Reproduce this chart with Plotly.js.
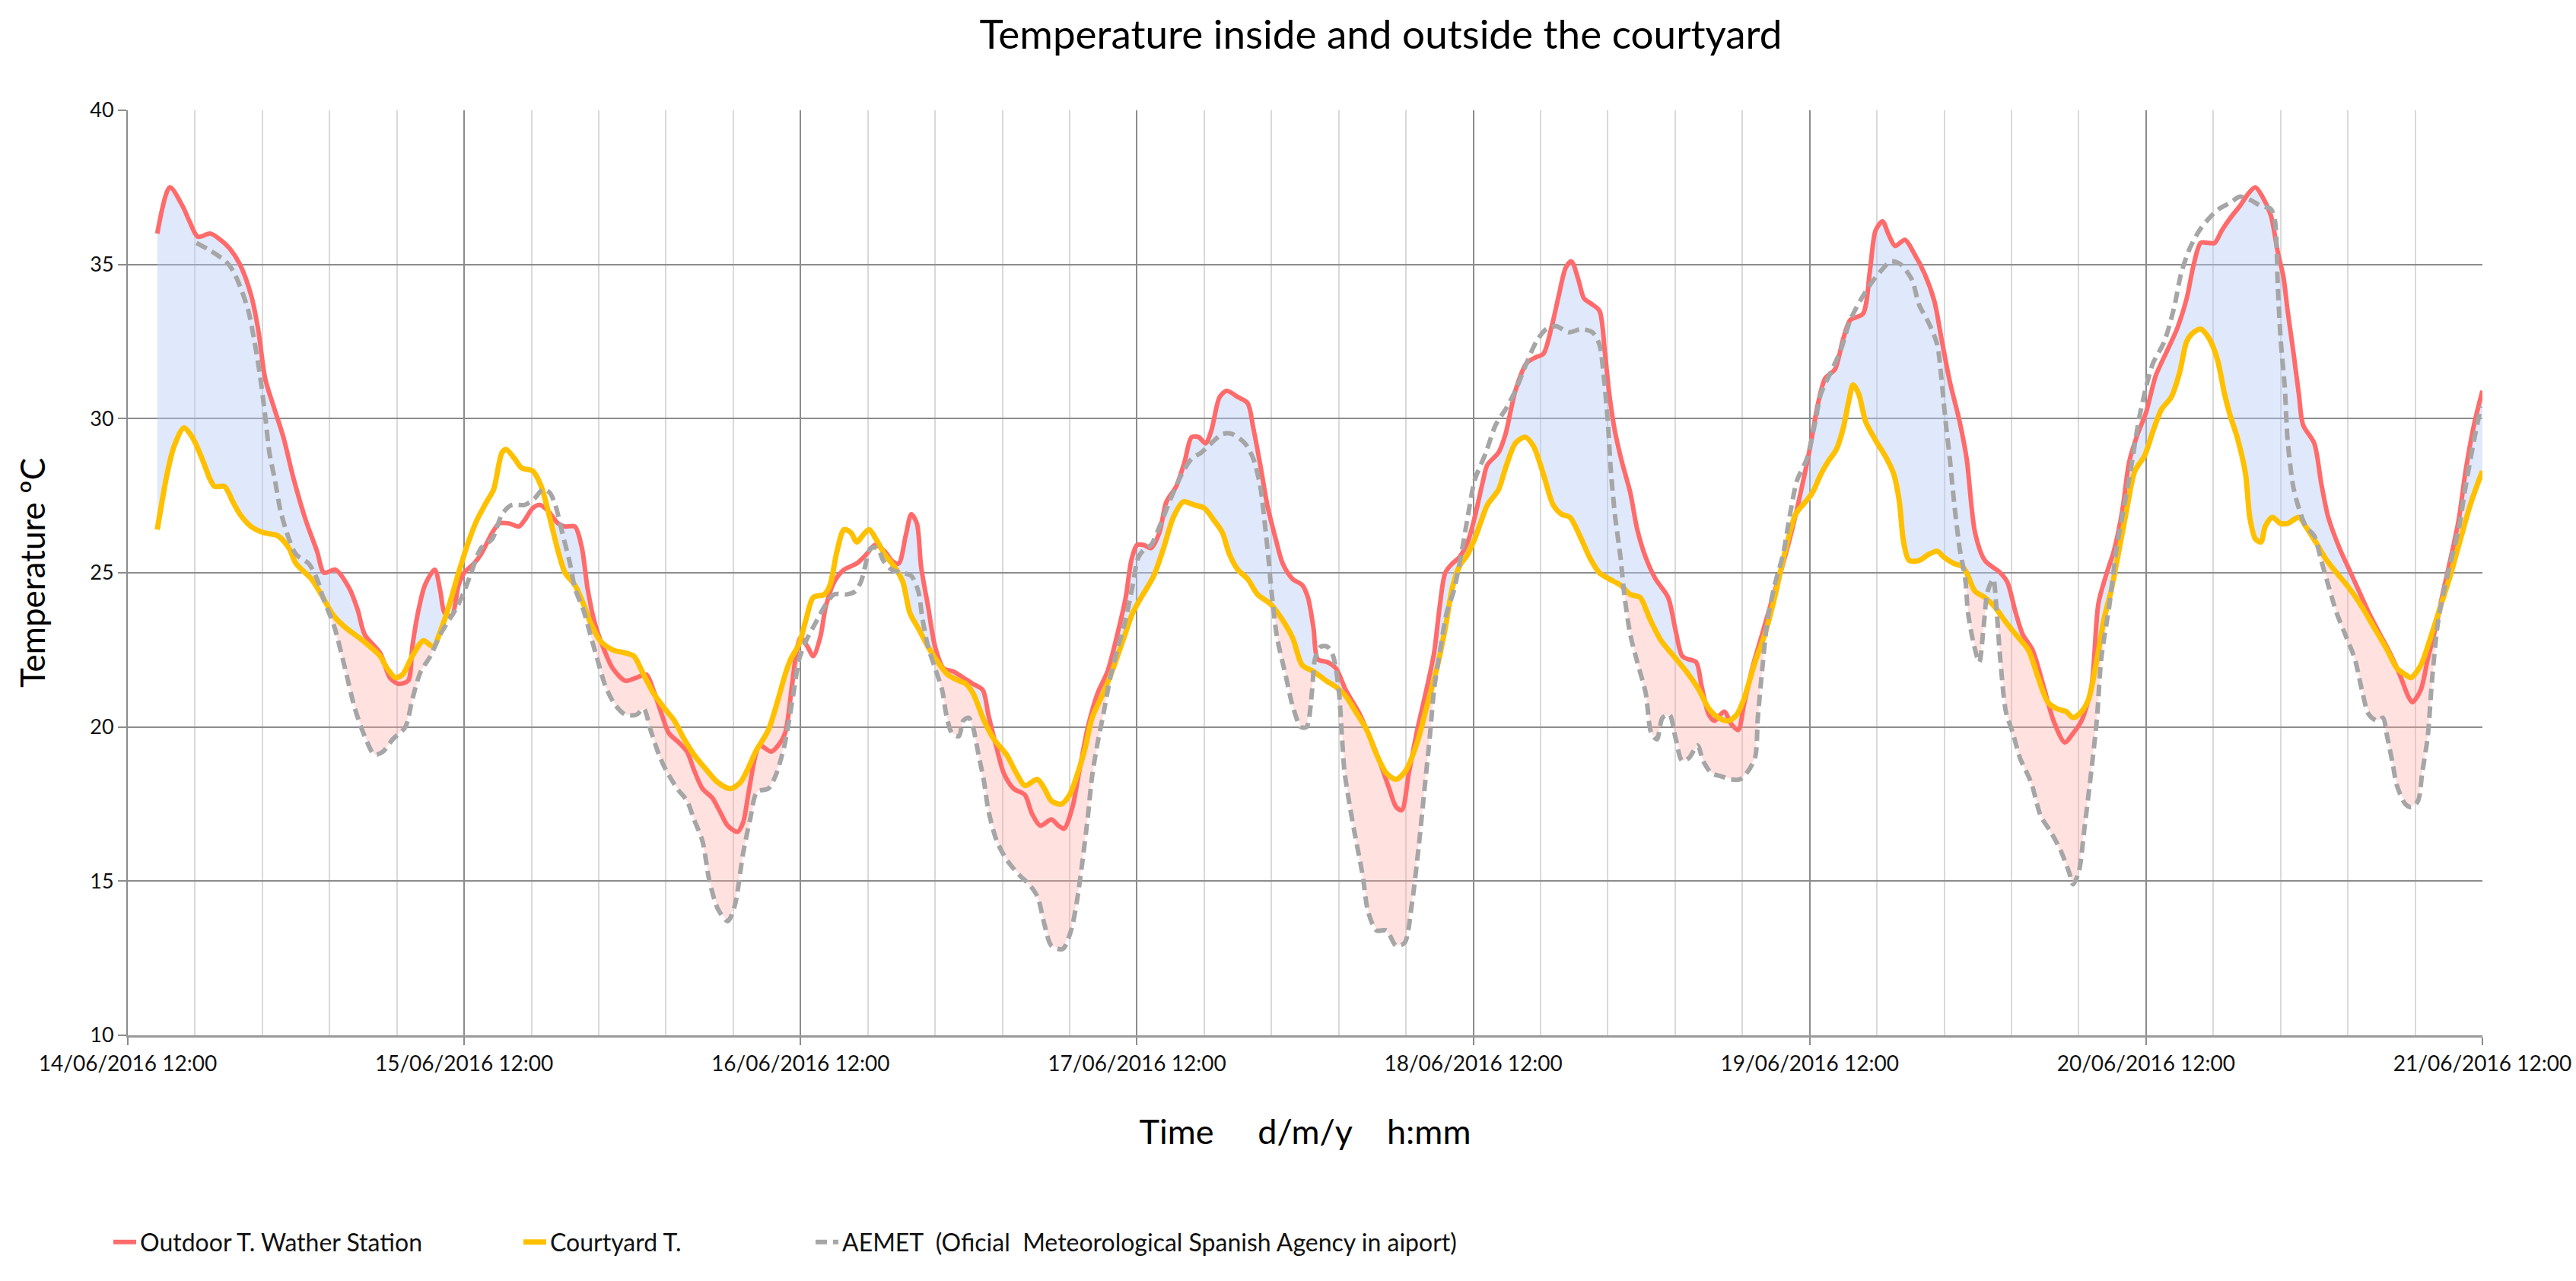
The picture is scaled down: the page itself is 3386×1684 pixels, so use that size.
<!DOCTYPE html>
<html>
<head>
<meta charset="utf-8">
<script src="https://cdn.plot.ly/plotly-3.0.1.min.js"></script>
<style>
  html, body { margin: 0; padding: 0; background: #ffffff; }
  #chart { width: 3386px; height: 1684px; }
</style>
</head>
<body>
<div id="chart"></div>
<script>
// ---------------- DATA ----------------
// Time origin of the x axis and tick labels
const startTime = '2016-06-14T12:00:00Z';
const tickLabels = ['14/06/2016 12:00', '15/06/2016 12:00', '16/06/2016 12:00', '17/06/2016 12:00',
                    '18/06/2016 12:00', '19/06/2016 12:00', '20/06/2016 12:00', '21/06/2016 12:00'];
const seriesNames = ['Outdoor T. Wather Station', 'Courtyard T.', 'AEMET  (Oficial  Meteorological Spanish Agency in aiport)'];

// [hours after 14/06/2016 12:00, temperature ºC]
const outdoorReadings = [
 [2.1,36.0],[3.0,37.5],[3.9,36.9],[4.4,36.4],[5.0,35.9],[5.9,36.0],[6.6,35.8],[7.3,35.5],[8.0,35.0],[8.8,34.0],
 [9.3,32.9],[9.8,31.3],[10.4,30.4],[11.1,29.4],[11.8,28.1],[12.7,26.7],[13.5,25.7],[14.0,25.0],[14.8,25.1],[15.8,24.5],
 [16.4,23.8],[16.9,23.0],[18.0,22.4],[18.7,21.6],[19.3,21.4],[20.0,21.5],[20.3,22.6],[20.7,23.7],[21.2,24.6],[21.9,25.1],
 [22.3,24.4],[22.6,23.7],[23.1,23.6],[23.6,24.6],[24.0,25.0],[24.7,25.3],[25.2,25.6],[26.0,26.3],[26.5,26.6],[27.2,26.6],
 [27.9,26.5],[28.3,26.7],[28.9,27.1],[29.4,27.2],[30.0,27.0],[30.7,26.6],[31.2,26.5],[31.9,26.5],[32.4,25.8],[32.8,24.5],
 [33.3,23.4],[33.9,22.6],[34.6,21.9],[35.5,21.5],[36.3,21.6],[37.0,21.7],[37.5,21.2],[38.1,20.4],[38.6,19.8],[39.3,19.5],
 [39.9,19.2],[40.4,18.6],[41.0,18.0],[41.7,17.7],[42.2,17.3],[42.8,16.8],[43.5,16.6],[43.9,16.9],[44.3,17.9],[44.8,19.1],
 [45.1,19.4],[45.9,19.2],[46.4,19.4],[46.9,19.8],[47.4,21.4],[47.7,22.4],[48.0,22.9],[48.5,22.6],[48.9,22.3],[49.4,22.9],
 [49.8,23.9],[50.4,24.7],[51.1,25.1],[52.0,25.3],[52.7,25.6],[53.3,25.9],[54.0,25.7],[54.5,25.4],[55.0,25.3],[55.5,26.2],
 [55.9,26.9],[56.3,26.6],[56.6,25.2],[57.1,23.9],[57.6,22.6],[58.2,21.9],[58.9,21.8],[59.6,21.6],[60.3,21.4],[61.0,21.2],
 [61.4,20.4],[62.0,19.3],[62.5,18.5],[63.2,18.0],[64.0,17.8],[64.5,17.2],[65.1,16.8],[65.9,17.0],[66.4,16.8],[66.8,16.7],
 [67.4,17.4],[67.9,18.6],[68.5,20.0],[69.2,21.1],[69.9,21.8],[70.6,23.0],[71.2,24.2],[71.6,25.4],[72.0,25.9],[72.5,25.9],
 [73.0,25.8],[73.6,26.3],[74.1,27.3],[74.8,27.8],[75.4,28.6],[75.9,29.4],[76.4,29.4],[76.9,29.2],[77.3,29.6],[77.9,30.7],
 [78.4,30.9],[79.2,30.7],[79.9,30.5],[80.3,29.7],[80.8,28.5],[81.3,27.2],[81.9,26.1],[82.4,25.3],[83.1,24.8],[83.8,24.6],
 [84.2,24.2],[84.6,23.2],[84.9,22.2],[85.6,22.1],[86.2,21.9],[86.9,21.2],[87.8,20.5],[88.5,19.8],[89.3,18.9],[90.0,18.0],
 [90.5,17.4],[90.9,17.3],[91.4,18.5],[92.0,19.9],[92.7,21.3],[93.2,22.4],[93.6,23.9],[94.0,25.0],[94.5,25.3],[95.0,25.5],
 [95.6,26.0],[96.1,26.8],[96.7,28.0],[97.0,28.5],[97.8,28.9],[98.3,29.5],[99.0,30.9],[99.8,31.8],[100.5,32.0],[101.0,32.1],
 [101.6,33.0],[102.1,34.0],[102.6,34.9],[103.0,35.1],[103.5,34.5],[103.9,33.9],[104.5,33.7],[105.0,33.5],[105.4,32.1],[105.7,30.8],
 [106.1,29.6],[106.6,28.6],[107.2,27.6],[107.7,26.4],[108.3,25.5],[109.0,24.8],[109.9,24.2],[110.4,23.2],[110.9,22.3],[111.3,22.2],
 [111.9,22.1],[112.3,21.3],[112.8,20.4],[113.2,20.2],[113.9,20.5],[114.4,20.1],[114.9,19.9],[115.3,20.7],[115.9,21.9],[116.6,23.0],
 [117.3,24.1],[118.1,25.3],[118.8,26.5],[119.5,27.9],[120.0,29.0],[120.6,30.5],[121.1,31.3],[121.8,31.6],[122.4,32.6],[122.9,33.2],
 [123.8,33.4],[124.3,34.8],[124.7,36.1],[125.2,36.4],[125.6,36.0],[126.1,35.6],[126.8,35.8],[127.4,35.4],[128.2,34.7],[128.9,33.8],
 [129.4,32.6],[130.0,31.2],[130.7,29.9],[131.2,28.7],[131.8,26.3],[132.5,25.4],[133.6,25.0],[134.1,24.7],[134.7,23.7],[135.2,23.0],
 [135.9,22.5],[136.7,21.3],[137.4,20.2],[138.2,19.5],[138.8,19.8],[139.4,20.2],[140.1,21.3],[140.6,24.0],[141.2,25.0],[141.7,25.7],
 [142.3,27.0],[142.8,28.6],[143.4,29.5],[144.0,30.2],[144.7,31.4],[145.5,32.2],[146.2,32.9],[146.9,33.9],[147.4,35.0],[147.9,35.7],
 [148.4,35.7],[148.9,35.7],[149.4,36.1],[150.0,36.5],[150.7,36.9],[151.3,37.3],[151.8,37.5],[152.3,37.2],[152.9,36.6],[153.4,35.4],
 [153.8,34.6],[154.1,33.5],[154.5,32.2],[154.9,30.8],[155.2,29.8],[156.0,29.2],[156.5,27.9],[157.0,26.8],[157.8,25.8],[158.5,25.1],
 [159.2,24.4],[159.9,23.7],[160.7,23.0],[161.4,22.4],[162.1,21.7],[162.7,21.0],[163.0,20.8],[163.6,21.2],[164.1,22.2],[164.7,23.3],
 [165.2,24.4],[165.7,25.4],[166.3,26.7],[166.8,28.3],[167.4,29.8],[168.0,30.9]
];

const courtyardReadings = [
 [2.1,26.4],[2.4,27.2],[2.8,28.2],[3.3,29.1],[4.0,29.7],[4.6,29.4],[5.3,28.7],[5.9,28.0],[6.2,27.8],[6.9,27.8],
 [7.5,27.3],[8.0,26.9],[8.8,26.5],[9.7,26.3],[10.7,26.2],[11.5,25.8],[12.0,25.3],[13.1,24.8],[13.8,24.3],[14.7,23.6],
 [15.6,23.2],[16.5,22.9],[17.3,22.6],[18.0,22.3],[18.5,21.9],[19.1,21.6],[19.6,21.7],[20.3,22.3],[21.1,22.8],[21.8,22.6],
 [22.3,23.1],[22.9,23.9],[23.6,25.0],[24.3,26.0],[24.9,26.7],[25.6,27.3],[26.1,27.7],[26.7,28.9],[27.0,29.0],[27.6,28.7],
 [28.1,28.4],[28.9,28.3],[29.5,27.8],[30.1,26.8],[30.7,25.7],[31.2,25.0],[31.9,24.6],[32.5,24.0],[33.0,23.4],[33.7,22.8],
 [34.6,22.5],[35.5,22.4],[36.1,22.3],[36.8,21.7],[37.5,21.1],[38.3,20.6],[39.0,20.2],[39.7,19.6],[40.4,19.1],[41.3,18.6],
 [42.1,18.2],[43.0,18.0],[43.7,18.2],[44.2,18.6],[44.8,19.2],[45.7,19.9],[46.4,20.9],[46.9,21.7],[47.3,22.2],[47.9,22.7],
 [48.4,23.5],[48.9,24.2],[49.7,24.3],[50.1,24.6],[50.6,25.7],[51.1,26.4],[51.6,26.3],[52.0,26.0],[52.6,26.3],[52.9,26.4],
 [53.5,26.0],[54.0,25.6],[54.7,25.2],[55.3,24.7],[55.8,23.7],[56.4,23.2],[57.1,22.6],[57.8,22.1],[58.5,21.7],[59.3,21.5],
 [59.8,21.4],[60.3,21.1],[61.1,20.2],[61.8,19.6],[62.7,19.1],[63.4,18.5],[64.0,18.1],[64.9,18.3],[65.4,18.0],[65.9,17.6],
 [66.6,17.5],[67.2,17.8],[67.7,18.4],[68.3,19.3],[68.8,20.3],[69.6,21.1],[70.3,21.9],[71.0,22.8],[71.7,23.7],[72.3,24.2],
 [73.2,24.9],[73.9,25.8],[74.6,26.8],[75.3,27.3],[76.1,27.2],[76.8,27.1],[77.5,26.7],[78.1,26.3],[78.6,25.6],[79.2,25.1],
 [79.9,24.8],[80.6,24.3],[81.5,24.0],[82.2,23.6],[83.1,22.9],[83.8,22.0],[84.6,21.8],[85.5,21.5],[86.2,21.3],[86.9,21.0],
 [87.6,20.5],[88.4,19.9],[89.1,19.1],[89.8,18.5],[90.5,18.3],[91.2,18.6],[92.0,19.5],[92.7,20.7],[93.4,21.9],[94.0,23.2],
 [94.5,24.5],[95.0,25.2],[95.6,25.6],[96.1,26.1],[96.5,26.6],[97.0,27.2],[97.8,27.7],[98.3,28.4],[99.0,29.2],[99.7,29.4],
 [100.3,29.1],[101.0,28.2],[101.7,27.2],[102.3,26.9],[102.9,26.8],[103.6,26.2],[104.3,25.5],[105.0,25.0],[105.7,24.8],[106.5,24.6],
 [107.2,24.3],[107.9,24.2],[108.6,23.5],[109.4,22.8],[110.3,22.3],[111.2,21.8],[112.1,21.2],[112.8,20.6],[113.5,20.3],[114.2,20.2],
 [114.8,20.4],[115.3,20.9],[116.1,22.1],[116.8,23.0],[117.5,24.2],[118.2,25.6],[119.0,26.9],[119.7,27.3],[120.2,27.6],[120.8,28.2],
 [121.3,28.6],[121.9,29.0],[122.4,29.7],[122.8,30.6],[123.1,31.1],[123.5,30.8],[124.0,29.9],[124.7,29.3],[125.5,28.7],[126.0,28.2],
 [126.4,27.3],[126.7,26.0],[127.1,25.4],[127.8,25.4],[128.5,25.6],[129.1,25.7],[129.6,25.5],[130.3,25.3],[130.9,25.2],[131.2,25.0],
 [131.8,24.4],[132.5,24.2],[133.2,23.9],[134.0,23.4],[134.7,23.0],[135.6,22.5],[136.3,21.6],[137.0,20.8],[137.6,20.6],[138.3,20.5],
 [138.8,20.3],[139.4,20.5],[139.9,20.9],[140.5,22.2],[141.0,23.5],[141.5,24.4],[142.1,25.8],[142.6,27.0],[143.2,28.3],[143.9,28.8],
 [144.5,29.6],[145.1,30.3],[145.8,30.7],[146.4,31.5],[146.9,32.5],[147.4,32.8],[147.9,32.9],[148.5,32.6],[149.1,31.9],[149.6,30.8],
 [150.0,30.1],[150.5,29.4],[151.1,28.2],[151.4,26.8],[151.8,26.1],[152.2,26.0],[152.5,26.5],[153.0,26.8],[153.6,26.6],[154.1,26.6],
 [154.9,26.8],[155.4,26.5],[156.1,26.0],[156.9,25.4],[157.6,25.0],[158.5,24.5],[159.4,23.9],[160.3,23.2],[161.2,22.5],[161.9,21.9],
 [162.5,21.7],[162.9,21.6],[163.6,22.0],[164.3,22.9],[165.0,23.9],[165.7,24.9],[166.5,26.2],[167.2,27.3],[168.0,28.3]
];

const aemetReadings = [
 [4.9,35.7],[5.7,35.5],[6.4,35.3],[7.0,35.1],[7.5,34.8],[8.0,34.3],[8.6,33.5],[9.0,32.6],[9.4,31.5],[9.8,30.1],
 [10.1,28.9],[10.5,28.0],[10.9,27.0],[11.5,26.1],[12.0,25.6],[12.9,25.3],[13.5,24.8],[14.0,24.1],[14.7,23.3],[15.5,21.9],
 [16.2,20.6],[16.9,19.7],[17.6,19.1],[18.2,19.2],[18.9,19.6],[19.8,20.0],[20.3,20.9],[20.9,21.8],[21.6,22.3],[22.3,23.0],
 [23.1,23.6],[23.5,23.9],[24.0,24.4],[24.5,25.0],[25.2,25.8],[26.0,26.1],[26.7,26.9],[27.4,27.2],[28.3,27.2],[29.0,27.4],
 [29.6,27.7],[30.1,27.6],[30.5,27.2],[31.0,26.3],[31.6,25.2],[31.9,24.5],[32.5,23.8],[33.0,23.0],[33.5,22.2],[34.1,21.3],
 [34.8,20.7],[35.5,20.4],[36.3,20.4],[36.8,20.6],[37.3,19.9],[37.9,19.1],[38.4,18.6],[39.2,18.0],[39.9,17.6],[40.4,17.0],
 [41.0,16.3],[41.5,15.0],[42.1,14.1],[42.8,13.7],[43.3,14.2],[43.9,15.9],[44.4,17.0],[44.9,17.9],[45.7,18.0],[46.2,18.4],
 [46.8,19.3],[47.1,20.0],[47.5,21.1],[47.9,22.2],[48.4,22.8],[49.1,23.4],[49.7,23.9],[50.4,24.3],[51.3,24.3],[51.9,24.4],
 [52.3,24.7],[52.6,25.2],[53.0,25.8],[53.5,25.8],[53.9,25.4],[54.5,25.1],[55.3,25.0],[55.9,24.9],[56.4,24.4],[56.7,23.5],
 [57.1,22.6],[57.6,21.9],[58.1,21.2],[58.4,20.4],[58.8,19.8],[59.3,19.7],[59.6,20.2],[60.0,20.3],[60.3,20.0],[60.7,19.1],
 [61.1,18.2],[61.4,17.3],[62.0,16.3],[62.7,15.7],[63.6,15.2],[64.3,14.9],[64.9,14.5],[65.4,13.6],[65.9,12.9],[66.7,12.8],
 [67.3,13.4],[67.7,14.3],[68.1,15.6],[68.5,17.1],[68.8,18.4],[69.2,19.5],[69.6,20.4],[70.1,21.6],[70.6,22.5],[71.2,23.5],
 [71.7,24.6],[72.1,25.5],[72.6,25.8],[73.0,25.9],[73.7,26.6],[74.5,27.5],[75.2,28.2],[75.9,28.7],[76.6,28.9],[77.3,29.2],
 [78.1,29.5],[78.8,29.5],[79.7,29.2],[80.3,28.7],[80.8,27.8],[81.1,26.7],[81.4,25.4],[81.6,24.4],[82.0,22.9],[82.6,21.7],
 [83.1,20.7],[83.7,20.0],[84.1,20.0],[84.5,21.2],[84.7,22.2],[85.1,22.6],[85.6,22.6],[86.0,22.3],[86.4,21.2],[86.6,19.9],
 [86.8,18.6],[87.2,17.4],[87.6,16.4],[88.1,15.2],[88.5,14.0],[89.1,13.4],[89.8,13.4],[90.5,12.9],[91.1,13.0],[91.6,14.2],
 [92.1,16.1],[92.5,17.9],[92.9,19.7],[93.2,21.2],[93.6,22.4],[94.1,23.7],[94.6,24.4],[95.1,25.5],[95.6,26.8],[96.1,28.0],
 [96.9,28.9],[97.6,29.8],[98.3,30.3],[99.0,30.9],[99.8,31.8],[100.5,32.5],[101.2,32.9],[101.9,33.0],[102.8,32.8],[103.7,32.9],
 [104.5,32.8],[105.0,32.4],[105.3,31.4],[105.6,29.9],[105.8,28.4],[106.1,26.9],[106.5,25.5],[106.8,24.2],[107.2,23.0],[107.7,22.1],
 [108.3,21.1],[108.7,19.8],[109.1,19.6],[109.5,20.3],[110.0,20.4],[110.4,19.7],[110.9,18.9],[111.4,19.0],[112.0,19.4],[112.4,18.9],
 [113.0,18.5],[113.7,18.4],[114.4,18.3],[115.0,18.3],[115.5,18.5],[116.1,19.0],[116.3,20.3],[116.6,21.8],[117.0,23.5],[117.5,24.6],
 [118.1,25.6],[118.6,26.9],[119.1,28.0],[119.8,28.7],[120.4,29.9],[120.8,30.8],[121.5,31.5],[122.2,32.2],[122.9,33.2],[123.7,33.9],
 [124.4,34.4],[125.1,34.8],[125.8,35.1],[126.5,35.0],[127.3,34.5],[127.8,33.7],[128.5,33.1],[129.1,32.4],[129.4,31.3],[129.7,29.9],
 [130.0,28.7],[130.3,27.3],[130.7,25.8],[131.1,24.8],[131.3,23.7],[131.7,22.7],[132.1,22.1],[132.4,23.2],[132.7,24.4],[133.1,24.8],
 [133.3,24.0],[133.6,22.2],[134.0,20.5],[134.5,19.8],[135.0,19.0],[135.8,18.2],[136.5,17.1],[137.2,16.6],[137.9,16.0],[138.5,15.3],
 [138.8,14.9],[139.2,15.3],[139.6,16.7],[140.1,18.6],[140.5,20.3],[140.8,22.2],[141.4,24.0],[141.9,25.8],[142.5,27.3],[143.0,28.6],
 [143.5,30.0],[144.1,31.2],[144.5,31.8],[145.3,32.5],[146.0,33.6],[146.5,34.7],[147.1,35.5],[147.8,36.1],[148.5,36.5],[149.2,36.8],
 [150.0,37.0],[150.7,37.2],[151.4,37.1],[152.2,36.9],[152.9,36.8],[153.2,36.4],[153.4,34.3],[153.6,32.6],[153.9,31.0],[154.1,29.3],
 [154.5,27.8],[154.9,27.1],[155.4,26.5],[156.0,26.2],[156.5,25.4],[157.0,24.6],[157.6,23.7],[158.3,22.9],[158.9,22.2],[159.4,21.2],
 [159.9,20.4],[160.5,20.2],[160.9,20.3],[161.2,19.7],[161.6,18.8],[161.9,18.1],[162.5,17.5],[162.9,17.4],[163.4,17.6],[163.7,18.5],
 [164.1,19.7],[164.4,21.5],[164.8,23.3],[165.2,24.3],[165.7,25.3],[166.3,26.4],[166.8,27.8],[167.4,29.3],[167.9,30.4]
];

// Night periods (hours) where the pink shading below the courtyard curve is drawn
const pinkPeriods = [[14.0,22.4],[32.4,47.9],[57.3,70.6],[81.4,93.6],[106.4,117.3],[130.8,141.9],[156.0,165.4]];

// ---------------- helpers ----------------
const t0 = Date.parse(startTime);
function toDate(h) {
  return new Date(t0 + h * 3600000).toISOString().slice(0, 19).replace('T', ' ');
}
function labelToDate(s) {  // 'dd/mm/yyyy hh:mm' -> 'yyyy-mm-dd hh:mm'
  const [d, t] = s.split(' ');
  const [dd, mm, yy] = d.split('/');
  return yy + '-' + mm + '-' + dd + ' ' + t;
}
function lin(pts, h) {
  if (h < pts[0][0] - 1e-9 || h > pts[pts.length - 1][0] + 1e-9) return null;
  for (let i = 1; i < pts.length; i++) {
    if (h <= pts[i][0] + 1e-9) {
      const [h0, v0] = pts[i - 1], [h1, v1] = pts[i];
      return h1 === h0 ? v1 : v0 + (v1 - v0) * (h - h0) / (h1 - h0);
    }
  }
  return pts[pts.length - 1][1];
}
const hoursOf = pts => pts.map(p => p[0]);
const tempsOf = pts => pts.map(p => p[1]);

// Fill bands (built from the series above)
const gridH = [];
const hStart = courtyardReadings[0][0], hEnd = courtyardReadings[courtyardReadings.length - 1][0];
for (let k = Math.round(hStart * 20); k <= Math.round(hEnd * 20); k++) gridH.push(k / 20);
const gridX = gridH.map(toDate);
const baseC = gridH.map(h => lin(courtyardReadings, h));
const blueTop = gridH.map((h, i) => {
  const o = lin(outdoorReadings, h);
  return (o !== null && o > baseC[i]) ? o : baseC[i];
});
const pinkLow = gridH.map((h, i) => {
  const inNight = pinkPeriods.some(p => h >= p[0] && h <= p[1]);
  if (!inNight) return baseC[i];
  const o = lin(outdoorReadings, h), a = lin(aemetReadings, h);
  let m = baseC[i];
  if (o !== null) m = Math.min(m, o);
  if (a !== null) m = Math.min(m, a);
  return m;
});

const FONT = 'Lato, "Open Sans", "Liberation Sans", sans-serif';
const hidden = { mode: 'lines', line: { width: 0, color: 'rgba(0,0,0,0)' }, hoverinfo: 'skip', showlegend: false };

const traces = [
  Object.assign({ x: gridX, y: baseC }, hidden),
  Object.assign({}, hidden, { x: gridX, y: blueTop, fill: 'tonexty', fillcolor: 'rgba(180,200,245,0.42)' }),
  Object.assign({ x: gridX, y: baseC }, hidden),
  Object.assign({}, hidden, { x: gridX, y: pinkLow, fill: 'tonexty', fillcolor: 'rgba(255,165,160,0.33)' }),
  {
    name: seriesNames[0], x: hoursOf(outdoorReadings).map(toDate), y: tempsOf(outdoorReadings),
    mode: 'lines', line: { color: '#FF6B6B', width: 6, shape: 'spline', smoothing: 0.8 }, legend: 'legend'
  },
  {
    name: seriesNames[1], x: hoursOf(courtyardReadings).map(toDate), y: tempsOf(courtyardReadings),
    mode: 'lines', line: { color: '#FFC000', width: 7, shape: 'spline', smoothing: 0.8 }, legend: 'legend2'
  },
  {
    name: seriesNames[2], x: hoursOf(aemetReadings).map(toDate), y: tempsOf(aemetReadings),
    mode: 'lines', line: { color: '#A6A6A6', width: 6, dash: '15px,8px', shape: 'spline', smoothing: 0.8 }, legend: 'legend3'
  }
];

const W = 3386, H = 1684, L = 168, R = 123, T = 145, B = 323;
const PW = W - L - R, PH = H - T - B;
const legendBase = { orientation: 'h', yanchor: 'middle', xanchor: 'left', y: (H - B - 1633) / PH,
  font: { family: FONT, size: 32, color: '#111' }, bgcolor: 'rgba(0,0,0,0)', itemwidth: 30 };

const layout = {
  width: W, height: H,
  margin: { l: L, r: R, t: T, b: B },
  paper_bgcolor: '#ffffff', plot_bgcolor: '#ffffff',
  title: {
    text: 'Temperature inside and outside the courtyard',
    font: { family: FONT, size: 53, color: '#000' },
    xref: 'paper', x: (1815 - L) / PW, xanchor: 'center',
    yref: 'container', y: 1 - 45 / H, yanchor: 'middle'
  },
  xaxis: {
    type: 'date', range: [toDate(0), toDate(168)], automargin: false,
    tickvals: tickLabels.map(labelToDate), ticktext: tickLabels,
    tickfont: { family: FONT, size: 28, color: '#111' },
    ticks: 'outside', ticklen: 10, tickwidth: 2, tickcolor: '#8c8c8c',
    showgrid: true, gridcolor: '#8c8c8c', gridwidth: 2,
    minor: { dtick: 0.2 * 86400000, tick0: toDate(0), showgrid: true, gridcolor: '#d9d9d9', gridwidth: 2, ticks: '' },
    showline: true, linecolor: '#9a9a9a', linewidth: 3, zeroline: false,
    title: { text: 'Time\u00a0\u00a0\u00a0\u00a0\u00a0d/m/y\u00a0\u00a0\u00a0\u00a0h:mm', font: { family: FONT, size: 45, color: '#000' }, standoff: 60 }
  },
  yaxis: {
    range: [10, 40], tick0: 10, dtick: 5, automargin: false,
    tickfont: { family: FONT, size: 27, color: '#111' },
    ticks: 'outside', ticklen: 11, tickwidth: 2, tickcolor: '#8c8c8c',
    showgrid: true, gridcolor: '#8c8c8c', gridwidth: 2,
    showline: true, linecolor: '#8c8c8c', linewidth: 2, zeroline: false,
    title: { text: 'Temperature ºC', font: { family: FONT, size: 44, color: '#000' }, standoff: 45 }
  },
  legend: Object.assign({}, legendBase, { x: (144 - L) / PW }),
  legend2: Object.assign({}, legendBase, { x: (683 - L) / PW }),
  legend3: Object.assign({}, legendBase, { x: (1067 - L) / PW }),
  showlegend: true
};

Plotly.newPlot('chart', traces, layout, { displayModeBar: false, responsive: false });
</script>
</body>
</html>
